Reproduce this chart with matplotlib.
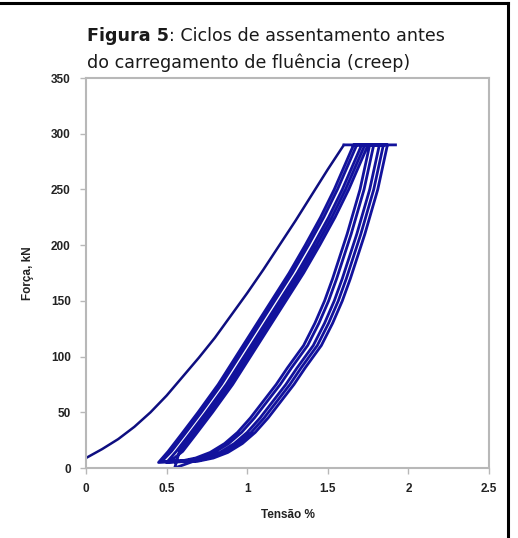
import matplotlib
matplotlib.use("Agg")
import matplotlib.pyplot as plt
from matplotlib.lines import Line2D

# first loading curve
load1_x = [0.0, 0.1, 0.2, 0.3, 0.4, 0.5, 0.6, 0.7, 0.8, 0.9, 1.0, 1.1, 1.2, 1.3, 1.4, 1.5, 1.6]
load1_y = [9, 17, 26, 37, 50, 65, 82, 99, 117, 137, 157, 178, 200, 222, 245, 268, 290]

# unloading branches (force levels shared)
unload_kn = [290, 270, 250, 230, 210, 190, 170, 150, 130, 110, 90, 75, 60, 45, 32, 22, 14, 9, 6]
unload_x = [
    [1.76, 1.73, 1.70, 1.66, 1.62, 1.575, 1.53, 1.48, 1.42, 1.35, 1.25, 1.18, 1.10, 1.02, 0.94, 0.86, 0.77, 0.68, 0.58],
    [1.785, 1.755, 1.725, 1.685, 1.645, 1.60, 1.555, 1.505, 1.445, 1.375, 1.275, 1.205, 1.125, 1.045, 0.965, 0.885, 0.795, 0.705, 0.605],
    [1.82, 1.79, 1.76, 1.72, 1.68, 1.635, 1.59, 1.54, 1.48, 1.41, 1.31, 1.24, 1.16, 1.08, 1.00, 0.92, 0.83, 0.74, 0.64],
    [1.845, 1.815, 1.785, 1.745, 1.705, 1.66, 1.615, 1.565, 1.505, 1.435, 1.335, 1.265, 1.185, 1.105, 1.025, 0.945, 0.855, 0.765, 0.665],
    [1.87, 1.84, 1.81, 1.77, 1.73, 1.685, 1.64, 1.59, 1.53, 1.46, 1.36, 1.29, 1.21, 1.13, 1.05, 0.97, 0.88, 0.79, 0.69],
]

# reloading branches
reload_kn = [5, 15, 30, 50, 75, 100, 125, 150, 175, 200, 225, 250, 270, 290]
reload_x = [
    [0.45, 0.51, 0.59, 0.695, 0.82, 0.93, 1.04, 1.15, 1.26, 1.36, 1.455, 1.54, 1.60, 1.66],
    [0.47, 0.53, 0.61, 0.715, 0.84, 0.95, 1.06, 1.17, 1.28, 1.38, 1.475, 1.56, 1.62, 1.68],
    [0.50, 0.56, 0.64, 0.745, 0.87, 0.98, 1.09, 1.20, 1.31, 1.41, 1.505, 1.59, 1.65, 1.71],
    [0.55, 0.58, 0.66, 0.765, 0.89, 1.00, 1.11, 1.22, 1.33, 1.43, 1.525, 1.61, 1.67, 1.73],
    [0.53, 0.60, 0.68, 0.785, 0.91, 1.02, 1.13, 1.24, 1.35, 1.45, 1.545, 1.63, 1.69, 1.75],
]
reload_start_kn = [5, 6, 5, 0, 7]
hold_end_x = 1.92

# build the cycle path
xs, ys = [load1_x[-1]], [load1_y[-1]]
for i in range(len(unload_x)):
    xs += unload_x[i]
    ys += unload_kn
    xs += reload_x[i]
    ys += [reload_start_kn[i]] + reload_kn[1:]
xs.append(hold_end_x)
ys.append(290)

fig = plt.figure(figsize=(5.18, 5.38), dpi=100)
ax = fig.add_axes([0.166, 0.130, 0.778, 0.725])

ax.plot(load1_x, load1_y, color="#0e0e80", lw=1.8, solid_capstyle="round")
ax.plot(xs, ys, color="#12129c", lw=2.0, solid_joinstyle="round")

ax.set_xlim(0, 2.5)
ax.set_ylim(0, 350)
ax.set_xticks([0, 0.5, 1, 1.5, 2, 2.5])
ax.set_xticklabels(["0", "0.5", "1", "1.5", "2", "2.5"])
ax.set_yticks(range(0, 351, 50))

for s in ax.spines.values():
    s.set_color("#b8b8b8")
    s.set_linewidth(1.5)
ax.tick_params(direction="out", length=4, width=1, color="#b8b8b8",
               labelsize=8.5, pad=7)
for lab in ax.get_xticklabels() + ax.get_yticklabels():
    lab.set_fontweight("bold")
    lab.set_family("Liberation Sans")
    lab.set_color("#222222")

ax.set_xlabel("Tensão %", fontsize=8.5, fontweight="bold", family="Liberation Sans",
              color="#222222", labelpad=10)
ax.set_ylabel("Força, kN", fontsize=8.5, fontweight="bold", family="Liberation Sans",
              color="#222222", labelpad=12)

# title
y1 = 1 - 41 / 538
t = fig.text(0.168, y1, "Figura 5", fontsize=12.6, fontweight="bold",
             color="#1a1a1a", va="baseline", family="DejaVu Sans")
fig.canvas.draw()
bb = t.get_window_extent()
fig.text(bb.x1 / fig.bbox.width, y1, ": Ciclos de assentamento antes",
         fontsize=12.6, color="#1a1a1a", va="baseline", family="DejaVu Sans")
fig.text(0.168, 1 - 68 / 538, "do carregamento de fluência (creep)",
         fontsize=12.6, color="#1a1a1a", va="baseline", family="DejaVu Sans")

# page frame (top and right)
fig.add_artist(Line2D([0, 508 / 518], [1 - 3 / 538, 1 - 3 / 538],
                      transform=fig.transFigure, color="black", lw=2.2))
fig.add_artist(Line2D([508 / 518, 508 / 518], [0, 1 - 3 / 538],
                      transform=fig.transFigure, color="black", lw=2.2))

fig.savefig("out.png", dpi=100)
